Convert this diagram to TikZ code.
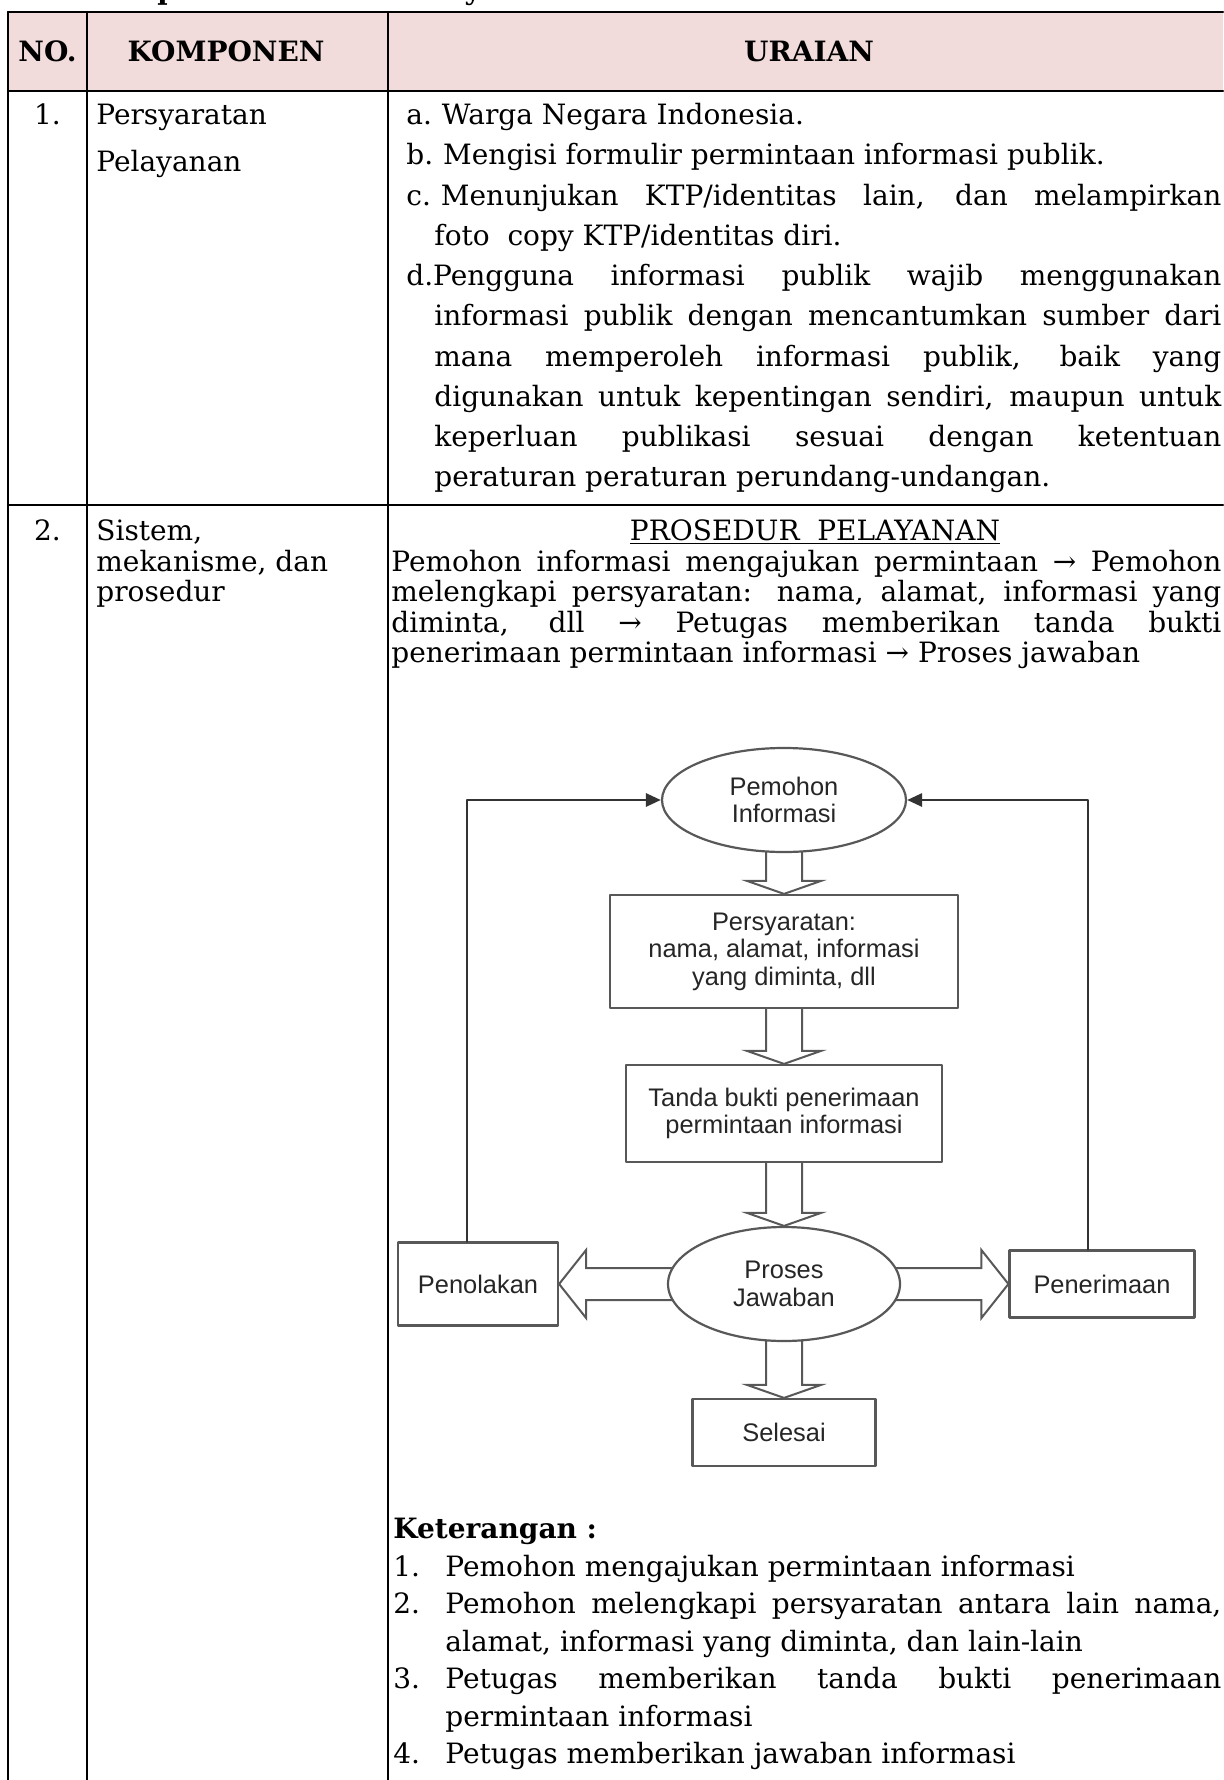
\documentclass[tikz,border=0pt]{standalone}
\usepackage{fontspec}
\setmainfont{DejaVu Serif}
\newfontfamily\sansalur{Liberation Sans}
\usetikzlibrary{shapes.geometric,arrows.meta,calc}

\definecolor{kepala}{RGB}{242,220,219}
\definecolor{garisabu}{RGB}{88,88,88}
\newcommand{\isi}{\fontsize{14}{16}\selectfont}
\newcommand{\alur}{\sansalur\fontsize{12.7}{13.75}\selectfont}
\newcommand{\rata}[2]{\makebox[#1][s]{#2}}
\newcommand{\nomor}[1]{\makebox[26pt][l]{#1}}
% panah blok: dari pusat simpul #1 ke ujung #2
\newcommand{\panahbawah}[2]{\draw[blok] ($(#1)+(-18,0)$) -- ($(#2)+(-18,-13)$) -- ($(#2)+(-37,-13)$) -- (#2) -- ($(#2)+(37,-13)$) -- ($(#2)+(18,-13)$) -- ($(#1)+(18,0)$);}
\newcommand{\panahkiri}[2]{\draw[blok] ($(#1)+(0,-16)$) -- ($(#2)+(27,-16)$) -- ($(#2)+(27,-34)$) -- (#2) -- ($(#2)+(27,34)$) -- ($(#2)+(27,16)$) -- ($(#1)+(0,16)$);}
\newcommand{\panahkanan}[2]{\draw[blok] ($(#1)+(0,-16)$) -- ($(#2)+(-27,-16)$) -- ($(#2)+(-27,-34)$) -- (#2) -- ($(#2)+(-27,34)$) -- ($(#2)+(-27,16)$) -- ($(#1)+(0,16)$);}

\pgfdeclarelayer{latar}
\pgfsetlayers{latar,main}

\begin{document}
\begin{tikzpicture}[x=0.5pt,y=-0.5pt,line cap=round,line join=round,
  teks/.style={anchor=base west,inner sep=0pt,font=\isi},
  tengah/.style={anchor=base,inner sep=0pt,font=\isi},
  kepalateks/.style={inner sep=0pt,font=\isi\bfseries},
  kotak/.style={draw=garisabu,line width=1.1pt,fill=white,inner sep=0pt,font=\alur,align=center,text=black!85},
  elips/.style={kotak,ellipse},
  blok/.style={draw=garisabu,line width=1pt,fill=white,line join=miter},
  balik/.style={draw=black!80,line width=1.4pt,-{Triangle[length=7.5pt,width=6.5pt]}},
  tabel/.style={line width=1.2pt}]
  \useasboundingbox (0,0) rectangle (1223,1780);
  % judul (terpotong di tepi atas)
  \node[teks,font=\isi\bfseries] (judul) at (44,0) {a. Komponen Standar Pelayanan};
  % kepala tabel
  \fill[kepala] (8,12) rectangle (1223,91);
  \node[kepalateks] (no) at (47.5,51.5) {NO.};
  \node[kepalateks] (komp) at (226,51.5) {KOMPONEN};
  \node[kepalateks] (urai) at (809,51.5) {URAIAN};
  % garis tabel
  \draw[tabel] (8,12) -- (1223,12);
  \draw[tabel] (8,91) -- (1223,91);
  \draw[tabel] (8,505) -- (1223,505);
  \draw[tabel] (8,12) -- (8,1780);
  \draw[tabel] (87,12) -- (87,1780);
  \draw[tabel] (388,12) -- (388,1780);
  % baris 1
  \node[tengah] (n1) at (47.5,125) {1.};
  \node[teks] (k1a) at (96,125) {Persyaratan};
  \node[teks] (k1b) at (96,172) {Pelayanan};
  \node[teks] (u1) at (406,125) {a.\kern5pt Warga Negara Indonesia.};
  \node[teks] (u2) at (406,165) {b.\kern5pt Mengisi formulir permintaan informasi publik.};
  \node[teks] (u3) at (406,206) {\rata{407.5pt}{c.\kern5pt Menunjukan KTP/identitas lain, dan melampirkan}};
  \node[teks] (u4) at (434,246) {foto\ \ copy KTP/identitas diri.};
  \node[teks] (u5) at (406,286) {\rata{407.5pt}{d.Pengguna informasi publik wajib menggunakan}};
  \node[teks] (u6) at (434,326) {\rata{393.5pt}{informasi publik dengan mencantumkan sumber dari}};
  \node[teks] (u7) at (434,367) {\rata{393.5pt}{mana memperoleh informasi publik, baik yang}};
  \node[teks] (u8) at (434,407) {\rata{393.5pt}{digunakan untuk kepentingan sendiri, maupun untuk}};
  \node[teks] (u9) at (434,447) {\rata{393.5pt}{keperluan publikasi sesuai dengan ketentuan}};
  \node[teks] (u10) at (434,487) {peraturan peraturan perundang-undangan.};
  % baris 2
  \node[tengah] (n2) at (47.5,540) {2.};
  \node[teks] (k2a) at (96,540) {Sistem,};
  \node[teks] (k2b) at (96,571) {mekanisme, dan};
  \node[teks] (k2c) at (96,601) {prosedur};
  \node[tengah] (judul2) at (815,540) {\underline{PROSEDUR\ \ PELAYANAN}};
  \node[teks] (p1) at (391,571) {\rata{415pt}{Pemohon informasi mengajukan permintaan → Pemohon}};
  \node[teks] (p2) at (391,601) {\rata{415pt}{melengkapi persyaratan: nama, alamat, informasi yang}};
  \node[teks] (p3) at (391,632) {\rata{415pt}{diminta, dll → Petugas memberikan tanda bukti}};
  \node[teks] (p4) at (391,662) {penerimaan permintaan informasi → Proses jawaban};
  % bagan alur
  \node[elips,minimum width=122pt,minimum height=52pt] (pemohon) at (784,800) {Pemohon\\Informasi};
  \node[kotak,minimum width=174pt,minimum height=56.5pt] (syarat) at (784,951.5) {Persyaratan:\\nama, alamat, informasi\\yang diminta, dll};
  \node[kotak,minimum width=158pt,minimum height=48.5pt] (tanda) at (784,1113.5) {Tanda bukti penerimaan\\permintaan informasi};
  \node[elips,minimum width=116pt,minimum height=57pt] (proses) at (784,1284) {Proses\\Jawaban};
  \node[kotak,minimum width=80pt,minimum height=41.5pt] (tolak) at (478,1284) {Penolakan};
  \node[kotak,minimum width=92.5pt,minimum height=33.5pt] (terima) at (1102,1284) {Penerimaan};
  \node[kotak,minimum width=91.5pt,minimum height=33.5pt] (selesai) at (784,1432.5) {Selesai};
  \begin{pgfonlayer}{latar}
    \panahbawah{pemohon.center}{syarat.north}
    \panahbawah{syarat.center}{tanda.north}
    \panahbawah{tanda.center}{proses.north}
    \panahbawah{proses.center}{selesai.north}
    \panahkiri{proses.center}{tolak.east}
    \panahkanan{proses.center}{terima.west}
  \end{pgfonlayer}
  % garis balik ke pemohon
  \coordinate (kiri) at (467,800);
  \coordinate (kanan) at (1088,800);
  \draw[balik] (tolak.north -| kiri) |- (pemohon.west);
  \draw[balik] (terima.north -| kanan) |- (pemohon.east);
  % keterangan
  \node[teks,font=\isi\bfseries] (ket) at (393,1538) {Keterangan :};
  \node[teks] (ket1) at (393,1576) {\nomor{1.}Pemohon mengajukan permintaan informasi};
  \node[teks] (ket2) at (393,1613) {\rata{414pt}{\nomor{2.}Pemohon melengkapi persyaratan antara lain nama,}};
  \node[teks] (ket3) at (445,1651) {alamat, informasi yang diminta, dan lain-lain};
  \node[teks] (ket4) at (393,1688) {\rata{414pt}{\nomor{3.}Petugas memberikan tanda bukti penerimaan}};
  \node[teks] (ket5) at (445,1726) {permintaan informasi};
  \node[teks] (ket6) at (393,1763) {\nomor{4.}Petugas memberikan jawaban informasi};
\end{tikzpicture}
\end{document}
